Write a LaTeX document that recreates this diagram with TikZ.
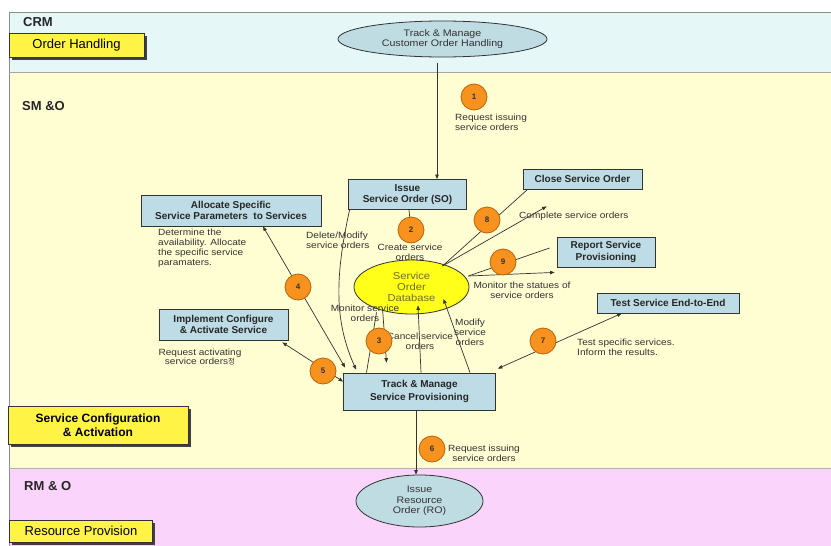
\documentclass[tikz,border=0pt]{standalone}
\usepackage{fontspec}
\setmainfont{Liberation Sans}
\newfontfamily\lblfont[FakeStretch=1.12]{Liberation Sans}
\newfontfamily\krfont{Noto Sans CJK KR}
\usetikzlibrary{arrows.meta,shapes.geometric,shadows,calc}
\definecolor{crmbg}{HTML}{E6F7F7}
\definecolor{smobg}{HTML}{FFFDD2}
\definecolor{rmobg}{HTML}{FAD4FA}
\definecolor{boxblue}{HTML}{BEDCE6}
\definecolor{ellblue}{HTML}{BFDCE3}
\definecolor{lbyellow}{HTML}{FFF445}
\definecolor{dbyellow}{HTML}{FFFF1A}
\definecolor{orangec}{HTML}{F7921E}
\definecolor{orangeb}{HTML}{B8620A}
\definecolor{linec}{HTML}{333333}
\definecolor{txtc}{HTML}{333333}
\definecolor{dbtxt}{HTML}{6E6E1E}
\begin{document}
\begin{tikzpicture}[x=1pt,y=-1pt,
  proc/.style={draw=linec, line width=0.8pt, fill=boxblue, rectangle, inner sep=0pt, align=center, font=\bfseries\fontsize{10}{11.5}\selectfont, text=black!85},
  lane/.style={draw=black!80, line width=0.6pt, fill=lbyellow, inner sep=0pt, align=center, drop shadow={shadow xshift=2.5pt, shadow yshift=-2.5pt, fill=black!75, opacity=1}},
  ell/.style={ellipse, draw=linec, line width=0.8pt, fill=ellblue, inner sep=0pt, align=center, text=txtc},
  num/.style={circle, draw=orangeb, line width=0.8pt, fill=orangec, minimum size=26pt, inner sep=0pt, font=\bfseries\fontsize{8}{8}\selectfont, text=black!80},
  lbl/.style={inner sep=0pt, align=center, font=\lblfont\fontsize{9}{9.8}\selectfont, text=txtc},
  conn/.style={draw=linec, line width=0.7pt},
  tip/.style={-{Triangle[length=4.5pt,width=3.5pt]}},
  dtip/.style={{Triangle[length=4.5pt,width=3.5pt]}-{Triangle[length=4.5pt,width=3.5pt]}},
  hdr/.style={inner sep=0pt, anchor=west, font=\bfseries\fontsize{13}{13}\selectfont, text=black!85}
]
\useasboundingbox (0,0) rectangle (831,546);
% bands
\fill[white] (0,0) rectangle (831,546);
\fill[crmbg] (9,12) rectangle (831,72.5);
\fill[smobg] (9,72.5) rectangle (831,468);
\fill[rmobg] (9,468) rectangle (831,546);
\draw[black!45, line width=0.6pt] (831,12) -- (9,12) -- (9,546);
\draw[black!35] (9,72.5) -- (831,72.5);
\draw[black!30] (9,468) -- (831,468);

% headers
\node[hdr] (hcrm) at (23,22) {CRM};
\node[hdr] (hsmo) at (22,106) {SM \&O};
\node[hdr] (hrmo) at (24,486) {RM \& O};

% lane labels
\node[lane, minimum width=135pt, minimum height=24pt, font=\fontsize{13}{13}\selectfont] (oh) at (76.5,45) {Order Handling};
\node[lane, minimum width=180pt, minimum height=38pt, font=\bfseries\fontsize{12}{14}\selectfont] (sca) at (98,425) {Service Configuration\\\& Activation};
\node[lane, minimum width=143pt, minimum height=22pt, font=\fontsize{13}{13}\selectfont] (rp) at (81,531) {Resource Provision};

% process boxes
\node[proc, minimum width=118pt, minimum height=30pt] (issue) at (407.5,194.5) {Issue\\Service Order (SO)};
\node[proc, minimum width=119pt, minimum height=20pt] (close) at (582.5,179) {Close Service Order};
\node[proc, minimum width=180pt, minimum height=31pt] (alloc) at (231,210.5) {Allocate Specific\\Service Parameters\ \ to Services};
\node[proc, minimum width=98pt, minimum height=30pt] (report) at (606,252) {Report Service\\Provisioning};
\node[proc, minimum width=142pt, minimum height=20pt] (test) at (668,303) {Test Service End-to-End};
\node[proc, minimum width=129pt, minimum height=31pt] (impl) at (223.5,324.5) {Implement Configure\\\& Activate Service};
\node[proc, minimum width=152pt, minimum height=37pt] (track) at (419.5,391.5) {Track \& Manage\\[2pt]Service Provisioning};

% ellipses
\node[ell, minimum width=209pt, minimum height=36pt, font=\lblfont\fontsize{9.5}{10}\selectfont] (crm) at (442.5,39) {Track \& Manage\\Customer Order Handling};
\node[ell, fill=dbyellow, minimum width=115pt, minimum height=54pt, text=dbtxt, font=\lblfont\fontsize{10}{11}\selectfont] (db) at (411.5,287) {Service\\Order\\Database};
\node[ell, minimum width=127pt, minimum height=52pt, font=\lblfont\fontsize{9.5}{10.5}\selectfont] (ro) at (419.5,501) {Issue\\Resource\\Order (RO)};

% circle positions
\coordinate (p1) at (474,97);
\coordinate (p2) at (411,230);
\coordinate (p3) at (379,341);
\coordinate (p4) at (298,287);
\coordinate (p5) at (323,371);
\coordinate (p6) at (432,449);
\coordinate (p7) at (543,341);
\coordinate (p8) at (487,220);
\coordinate (p9) at (503,262);

% connectors
\draw[conn,tip] ($(crm.south)+(-5.5,6)$) -- ($(issue.north)+(29.5,0)$);
\draw[conn] ($(issue.south)+(1.5,0)$) -- (p2);
\draw[conn,tip] ($(issue.south west)+(1.5,0)$) .. controls ($(issue.south west)+(-14,70)$) and ($(track.north west)+(-8,-50)$) .. ($(track.north west)+(13,-3)$);
\draw[conn,dtip] ($(alloc.south)+(32,0)$) -- ($(track.north west)+(2,-5)$);
\draw[conn,dtip] ($(impl.south east)+(-6,2)$) -- ($(track.north west)+(0,9)$);
\draw[conn,tip] ($(db.south)+(-29,-6)$) -- ($(track.north)+(-33,-10)$);
\draw[conn] ($(db.south)+(-35,-2)$) -- ($(track.north)+(-53,0)$);
\draw[conn,tip] ($(track.north)+(1.5,0)$) -- ($(db.south)+(6.5,-9)$);
\draw[conn,tip] ($(track.north)+(50.5,0)$) -- ($(db.center)+(32,12)$);
\draw[conn,dtip] ($(test.south west)+(25,0)$) -- ($(track.north east)+(2,-4)$);
\draw[conn] ($(close.south west)+(5,0)$) -- ($(db.center)+(31,-21)$);
\draw[conn,tip] ($(db.center)+(31,-21)$) -- ($(close.south west)+(24,17)$);
\draw[conn] ($(report.west)+(-7,-4)$) -- ($(db.east)+(-1,-11)$);
\draw[conn,tip] ($(db.east)+(-1,-11)$) -- ($(report.south west)+(-2,5)$);
\draw[conn,tip] ($(track.south)+(-3.5,0)$) -- ($(ro.north)+(-3.5,0)$);

% labels
\node[lbl, align=left, anchor=west] (l1) at (455,122.5) {Request issuing\\service orders};
\node[lbl, align=left, anchor=west] (ldel) at (306,240) {Delete/Modify\\service orders};
\node[lbl] (lcreate) at (410,252.5) {Create service\\orders};
\node[lbl, align=left, anchor=west] (ldet) at (158,248) {Determine the\\availability. Allocate\\the specific service\\paramaters.};
\node[lbl] (lmon) at (365,313.5) {Monitor service\\orders};
\node[lbl] (lcancel) at (420,341.5) {Cancel service\\orders};
\node[lbl] (lmod) at (470,332.5) {Modify\\service\\orders};
\node[lbl] (lreq) at (200,357) {Request activating\\service orders{\krfont\fontsize{7.5}{7.5}\selectfont 정}};
\node[lbl, anchor=west] (lcomp) at (519,216) {Complete service orders};
\node[lbl] (lstat) at (522,290) {Monitor the statues of\\service orders};
\node[lbl, align=left, anchor=west] (ltest) at (577,347) {Test specific services.\\Inform the results.};
\node[lbl] (l6) at (484,453) {Request issuing\\service orders};

% numbered circles
\node[num] (n1) at (p1) {1};
\node[num] (n2) at (p2) {2};
\node[num] (n3) at (p3) {3};
\node[num] (n4) at (p4) {4};
\node[num] (n5) at (p5) {5};
\node[num] (n6) at (p6) {6};
\node[num] (n7) at (p7) {7};
\node[num] (n8) at (p8) {8};
\node[num] (n9) at (p9) {9};
\end{tikzpicture}
\end{document}
